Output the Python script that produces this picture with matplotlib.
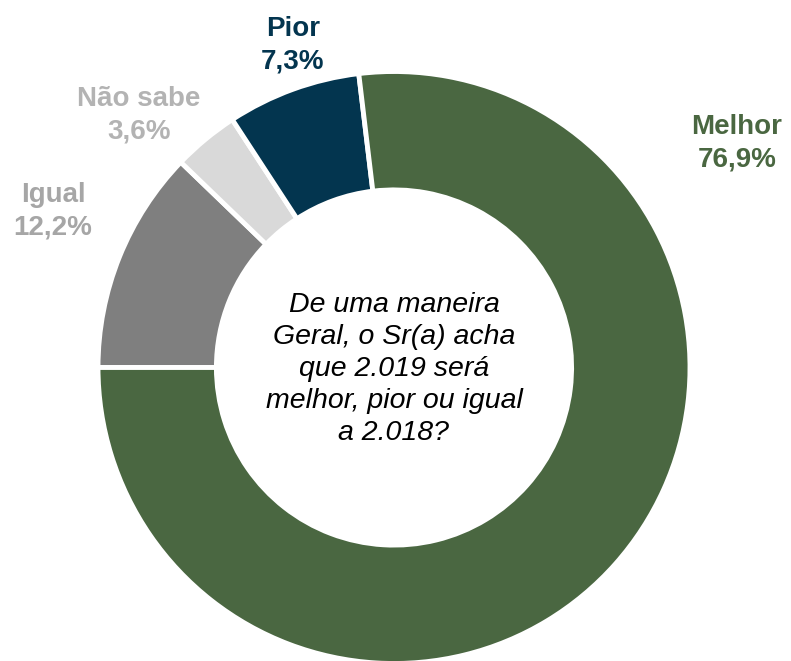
import matplotlib.pyplot as plt

plt.rcParams['font.family'] = ['Liberation Sans', 'DejaVu Sans']

# data, clockwise starting from 9 o'clock
labels = ['Igual', 'Não sabe', 'Pior', 'Melhor']
values = [12.2, 3.6, 7.3, 76.9]
colors = ['#7f7f7f', '#d9d9d9', '#03354f', '#4a6741']
label_colors = ['#a6a6a6', '#b3b3b3', '#03354f', '#4a6741']
question = 'De uma maneira\nGeral, o Sr(a) acha\nque 2.019 será\nmelhor, pior ou igual\na 2.018?'

W, H = 791, 661
fig = plt.figure(figsize=(W / 100, H / 100), dpi=100)
ax = fig.add_axes([0, 0, 1, 1])

cx, cy, R = 394, H - 367.5, 296
ax.pie(values, colors=colors, startangle=180, counterclock=False,
       radius=R, center=(cx, cy), frame=True,
       wedgeprops=dict(width=R * 0.4, edgecolor='white', linewidth=3.5))
ax.set_xlim(0, W)
ax.set_ylim(0, H)
ax.axis('off')

# label positions in pixels (x, y of the two-line block centre)
pos = {'Igual': (53, 211), 'Não sabe': (139, 115), 'Pior': (293, 45), 'Melhor': (737, 143)}
for lab, v, c in zip(labels, values, label_colors):
    x, y = pos[lab]
    txt = f"{lab}\n{v:.1f}%".replace('.', ',')
    ax.text(x, H - y, txt, ha='center', va='center', color=c,
            fontsize=20, fontweight='bold', linespacing=1.35)

ax.text(cx, H - 369, question, ha='center', va='center', fontsize=20.5,
        style='italic', color='black', linespacing=1.3)

fig.savefig('out.png', dpi=100)
